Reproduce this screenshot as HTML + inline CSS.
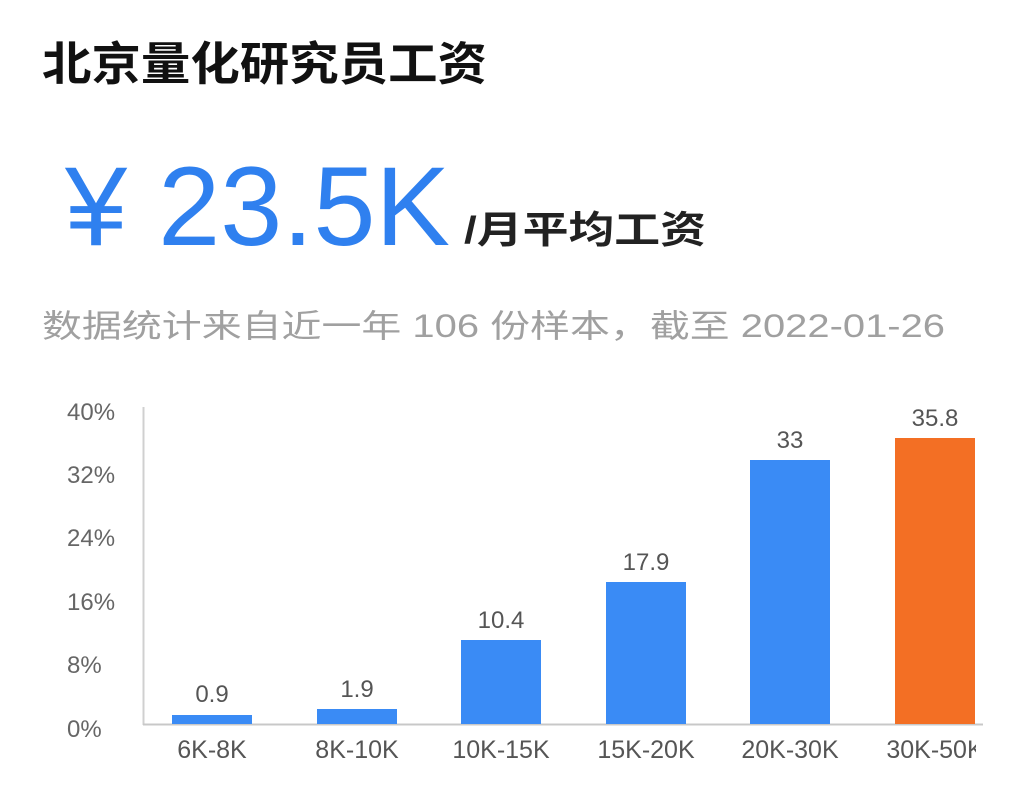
<!DOCTYPE html>
<html><head><meta charset="utf-8"><style>
html,body{margin:0;padding:0;background:#fff;width:1028px;height:806px;overflow:hidden}
svg{display:block}
</style></head><body>
<svg width="1028" height="806" xmlns="http://www.w3.org/2000/svg" font-family="'Liberation Sans','Noto Sans CJK SC',sans-serif">
<text x="42" y="80" font-size="46" font-weight="bold" fill="#111" textLength="445" lengthAdjust="spacingAndGlyphs">北京量化研究员工资</text>
<text x="65" y="245" font-size="112" fill="#2f80ef" textLength="385" lengthAdjust="spacingAndGlyphs">¥ 23.5K</text>
<text x="464" y="243" font-size="38" font-weight="bold" fill="#222" textLength="242" lengthAdjust="spacingAndGlyphs">/月平均工资</text>
<text x="42" y="337" font-size="32" fill="#a0a0a0" textLength="903" lengthAdjust="spacingAndGlyphs">数据统计来自近一年 106 份样本，截至 2022-01-26</text>
<g font-size="24" fill="#666" text-anchor="start">
<text x="67" y="420">40%</text>
<text x="67" y="483">32%</text>
<text x="67" y="546">24%</text>
<text x="67" y="610">16%</text>
<text x="67" y="673">8%</text>
<text x="67" y="737">0%</text>
</g>
<line x1="143.5" y1="407" x2="143.5" y2="725" stroke="#d0d0d0" stroke-width="2"/>
<line x1="143" y1="724.5" x2="983" y2="724.5" stroke="#c8c8c8" stroke-width="2"/>
<g fill="#3a8bf5">
<rect x="172" y="715" width="80" height="9"/>
<rect x="317" y="709" width="80" height="15"/>
<rect x="461" y="640" width="80" height="84"/>
<rect x="606" y="582" width="80" height="142"/>
<rect x="750" y="460" width="80" height="264"/>
</g>
<rect x="895" y="438" width="80" height="286" fill="#f36f24"/>
<g font-size="24" fill="#555" text-anchor="middle">
<text x="212" y="702">0.9</text>
<text x="357" y="697">1.9</text>
<text x="501" y="628">10.4</text>
<text x="646" y="570">17.9</text>
<text x="790" y="448">33</text>
<text x="935" y="426">35.8</text>
</g>
<clipPath id="c"><rect x="0" y="0" width="976" height="806"/></clipPath>
<g font-size="25" fill="#555" text-anchor="middle" clip-path="url(#c)">
<text x="212" y="758">6K-8K</text>
<text x="357" y="758">8K-10K</text>
<text x="501" y="758">10K-15K</text>
<text x="646" y="758">15K-20K</text>
<text x="790" y="758">20K-30K</text>
<text x="935" y="758">30K-50K</text>
</g>
</svg>
</body></html>
